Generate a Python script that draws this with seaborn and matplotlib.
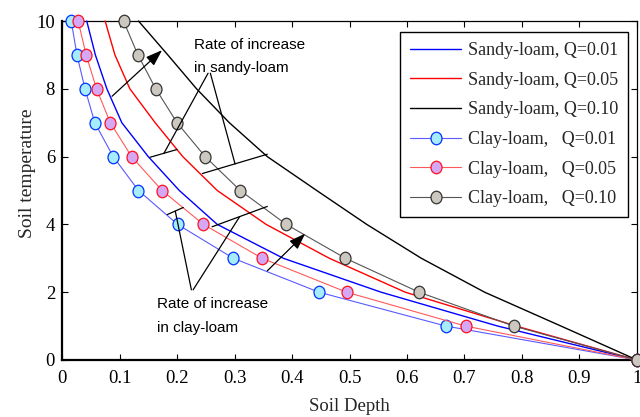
import numpy as np
import pandas as pd
import matplotlib
matplotlib.use("Agg")
import matplotlib.pyplot as plt
from matplotlib.path import Path
import seaborn as sns

# Temperature levels at which depth profiles are sampled
temperature = [10, 9, 8, 7, 6, 5, 4, 3, 2, 1, 0]

# Sandy-loam depth profiles
sandy_q001 = [0.043, 0.058, 0.078, 0.104, 0.150, 0.204, 0.270, 0.385, 0.555, 0.758, 1.0]
sandy_q005 = [0.075, 0.092, 0.118, 0.162, 0.210, 0.270, 0.355, 0.465, 0.597, 0.790, 1.0]
sandy_q010 = [0.133, 0.184, 0.234, 0.291, 0.357, 0.443, 0.530, 0.625, 0.735, 0.868, 1.0]

# Clay-loam depth profiles
clay_q001 = [0.016, 0.026, 0.040, 0.057, 0.089, 0.133, 0.201, 0.298, 0.447, 0.668, 1.0]
clay_q005 = [0.028, 0.042, 0.060, 0.084, 0.121, 0.174, 0.246, 0.348, 0.495, 0.702, 1.0]
clay_q010 = [0.107, 0.132, 0.163, 0.200, 0.249, 0.310, 0.390, 0.493, 0.621, 0.786, 1.0]

sandy_labels = ["Sandy-loam, Q=0.01", "Sandy-loam, Q=0.05", "Sandy-loam, Q=0.10"]
clay_labels = ["Clay-loam,   Q=0.01", "Clay-loam,   Q=0.05", "Clay-loam,   Q=0.10"]

x_ticks = [0, 0.1, 0.2, 0.3, 0.4, 0.5, 0.6, 0.7, 0.8, 0.9, 1]
x_tick_labels = ["0", "0.1", "0.2", "0.3", "0.4", "0.5", "0.6", "0.7", "0.8", "0.9", "1"]
y_ticks = [0, 2, 4, 6, 8, 10]

sns.set_style("ticks")
plt.rcParams["font.family"] = ["Liberation Serif", "DejaVu Serif"]

fig = plt.figure(figsize=(6.4, 4.17), dpi=100)
ax = fig.add_axes([0.0969, 0.1367, 0.8984, 0.8129])

# slightly tall ellipse marker
circ = Path.unit_circle()
ellipse = Path(circ.vertices * np.array([0.88, 1.0]), circ.codes)

sandy = pd.DataFrame({"T": temperature, "q001": sandy_q001, "q005": sandy_q005, "q010": sandy_q010})
clay = pd.DataFrame({"T": temperature, "q001": clay_q001, "q005": clay_q005, "q010": clay_q010})

sandy_colors = ["#0000ff", "#ff0000", "#000000"]
for col, c, lab in zip(["q001", "q005", "q010"], sandy_colors, sandy_labels):
    sns.lineplot(data=sandy, x=col, y="T", sort=False, estimator=None, ax=ax,
                 color=c, lw=1.0, label=lab, clip_on=False, zorder=3)

clay_line = ["#5a5aff", "#ff5a5a", "#555555"]
clay_face = ["#a6ecfa", "#d4a8f4", "#ccc8c0"]
clay_edge = ["#0033ff", "#ff1020", "#333333"]
for col, lc, fc, ec, lab in zip(["q001", "q005", "q010"], clay_line, clay_face, clay_edge, clay_labels):
    sns.lineplot(data=clay, x=col, y="T", sort=False, estimator=None, ax=ax,
                 color=lc, lw=0.8, marker=ellipse, markersize=9, markerfacecolor=fc,
                 markeredgecolor=ec, markeredgewidth=0.9, label=lab, clip_on=False, zorder=4)

ax.set_xlim(0, 1)
ax.set_ylim(0, 10)
ax.set_xticks(x_ticks)
ax.set_xticklabels(x_tick_labels)
ax.set_yticks(y_ticks)
ax.tick_params(direction="in", top=True, right=True, length=4, width=0.8,
               labelsize=13.5, colors="black")
ax.tick_params(axis="x", pad=7)
ax.tick_params(axis="y", pad=5)
for s in ["left", "bottom"]:
    ax.spines[s].set_linewidth(1.6)
for s in ["top", "right"]:
    ax.spines[s].set_linewidth(0.9)
for s in ax.spines.values():
    s.set_color("black")

ax.set_xlabel("Soil Depth", fontsize=13.5, labelpad=8)
ax.set_ylabel("Soil temperature", fontsize=14)
ax.yaxis.set_label_coords(-0.046, 0.55)

leg = ax.legend(loc="upper right", bbox_to_anchor=(0.984, 0.967), borderaxespad=0,
                fontsize=13, frameon=True, fancybox=False, edgecolor="black",
                handlelength=2.85, handletextpad=0.35, labelspacing=0.70, borderpad=0.55,
                numpoints=1)
leg.get_frame().set_linewidth(1.0)
leg.get_frame().set_alpha(1)

# annotation brackets and pointers
ann = dict(color="black", lw=0.9, zorder=5, clip_on=False)
afont = dict(family=["Liberation Sans", "DejaVu Sans"], fontsize=11, color="black")
arrow = dict(arrowstyle="-|>,head_length=1.0,head_width=0.35",
             color="black", lw=0.9, shrinkA=0, shrinkB=0)

ax.plot([0.153, 0.200], [5.98, 6.21], **ann)
ax.plot([0.244, 0.357], [5.50, 6.07], **ann)
ax.plot([0.254, 0.177], [8.46, 6.09], **ann)
ax.plot([0.258, 0.301], [8.46, 5.78], **ann)
ax.text(0.230, 9.17, "Rate of increase", ha="left", va="baseline", **afont)
ax.text(0.230, 8.50, "in sandy-loam", ha="left", va="baseline", **afont)
ax.annotate("", xy=(0.174, 9.14), xytext=(0.087, 7.78), arrowprops=arrow, zorder=5)

ax.plot([0.183, 0.211], [4.29, 4.50], **ann)
ax.plot([0.261, 0.357], [3.93, 4.53], **ann)
ax.plot([0.225, 0.197], [2.07, 4.39], **ann)
ax.plot([0.228, 0.309], [2.07, 4.23], **ann)
ax.text(0.166, 1.52, "Rate of increase", ha="left", va="baseline", **afont)
ax.text(0.166, 0.84, "in clay-loam", ha="left", va="baseline", **afont)
ax.annotate("", xy=(0.423, 3.73), xytext=(0.357, 2.63), arrowprops=arrow, zorder=5)

fig.savefig("out.png", dpi=100)
